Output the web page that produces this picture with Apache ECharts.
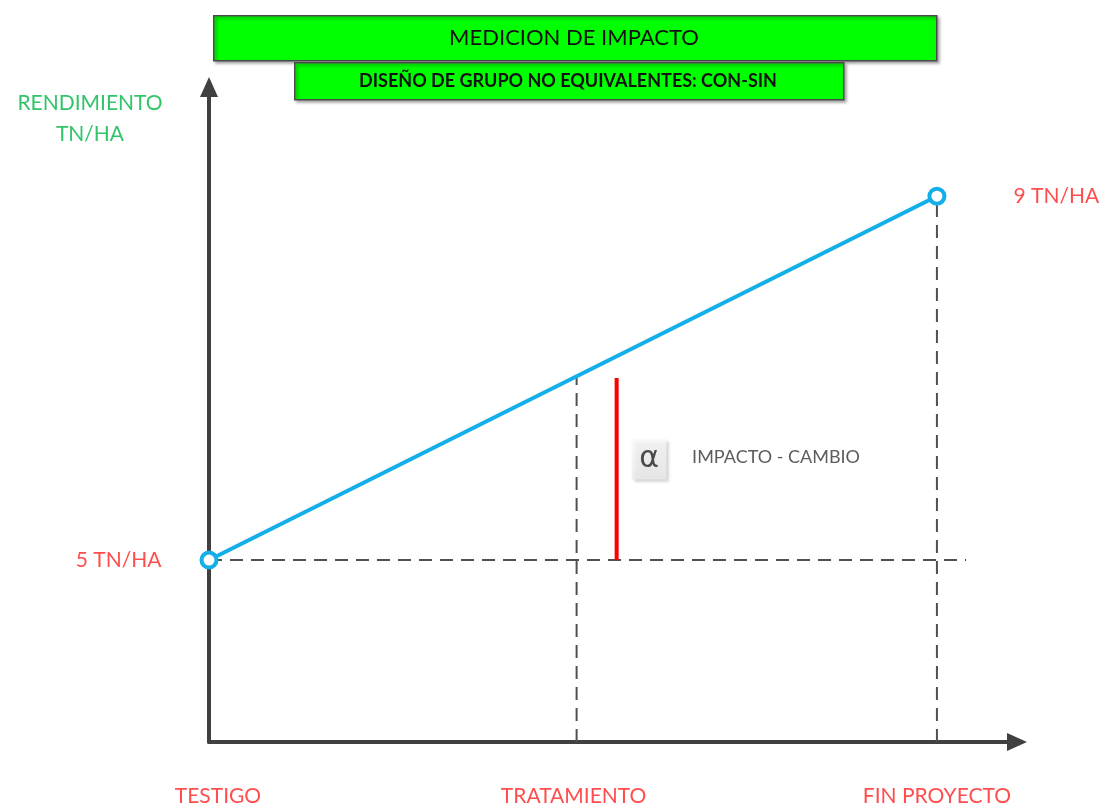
<!DOCTYPE html>
<html>
<head>
<meta charset="utf-8">
<script src="https://cdn.jsdelivr.net/npm/echarts@6/dist/echarts.min.js"></script>
<style>
html,body{margin:0;padding:0;background:#fff;}
#chart{width:1104px;height:805px;}
</style>
</head>
<body>
<div id="chart"></div>
<script>
// ---- data ----
const categories = ['TESTIGO', 'TRATAMIENTO', 'FIN PROYECTO'];
const xPositions = [0, 1.01, 2];
const yieldStart = 5;
const yieldEnd = 9;
const yieldAtTratamiento = 7.02;
const yieldLabels = ['5 TN/HA', '9 TN/HA'];
const impactX = 1.12;
const impactTop = 7.0;
const baselineEndX = 2.08;
const annotationAlpha = { x: 1.209, y: 6.11, text: 'α' };
const annotationText = { x: 1.326, y: 6.13, text: 'IMPACTO - CAMBIO' };
const titleMain = 'MEDICION DE IMPACTO';
const titleSub = 'DISEÑO DE GRUPO NO EQUIVALENTES: CON-SIN';
const yAxisTitle = ['RENDIMIENTO', 'TN/HA'];
const axisMin = { x: 0, y: 3 };
const axisMax = { x: 2.22, y: 10.2 };

const FONT = 'Lato';
const RED = '#ff2020';
const AXIS = '#404040';
const DASH = '#505050';

const chart = echarts.init(document.getElementById('chart'), null, { renderer: 'canvas' });

const dashed = { color: DASH, width: 2, type: [13, 8] };

const option = {
  backgroundColor: '#ffffff',
  animation: false,
  grid: { left: 209, right: 87, top: 87, bottom: 63 },
  xAxis: {
    type: 'value', min: axisMin.x, max: axisMax.x,
    axisLine: { show: true, onZero: false, symbol: ['none', 'triangle'], symbolSize: [18, 20],
      lineStyle: { color: AXIS, width: 4 } },
    axisTick: { show: false }, axisLabel: { show: false }, splitLine: { show: false }
  },
  yAxis: {
    type: 'value', min: axisMin.y, max: axisMax.y,
    axisLine: { show: true, onZero: false, symbol: ['none', 'triangle'], symbolSize: [18, 20],
      lineStyle: { color: AXIS, width: 4 } },
    axisTick: { show: false }, axisLabel: { show: false }, splitLine: { show: false }
  },
  series: [
    { type: 'line', name: 'baseline', data: [[xPositions[0], yieldStart], [baselineEndX, yieldStart]],
      symbol: 'none', lineStyle: dashed, z: 1, silent: true },
    { type: 'line', name: 'tratamiento', data: [[xPositions[1], axisMin.y], [xPositions[1], yieldAtTratamiento]],
      symbol: 'none', lineStyle: dashed, z: 1, silent: true },
    { type: 'line', name: 'fin', data: [[xPositions[2], axisMin.y], [xPositions[2], yieldEnd]],
      symbol: 'none', lineStyle: dashed, z: 1, silent: true },
    { type: 'line', name: 'impacto', data: [[impactX, yieldStart], [impactX, impactTop]],
      symbol: 'none', lineStyle: { color: '#ff0000', width: 4 }, z: 2, silent: true },
    { type: 'line', name: 'rendimiento', data: [[xPositions[0], yieldStart], [xPositions[2], yieldEnd]],
      symbol: 'circle', symbolSize: 15, showSymbol: true, clip: false,
      itemStyle: { color: '#ffffff', borderColor: '#14aee8', borderWidth: 4 },
      lineStyle: { color: '#14aee8', width: 4 }, z: 5,
      label: { show: false } },
    { type: 'scatter', name: 'yLabels', symbolSize: 1, itemStyle: { color: 'rgba(0,0,0,0)' }, z: 6,
      data: [
        { value: [xPositions[0], yieldStart], label: { show: true, formatter: yieldLabels[0], position: 'left', distance: 47 } },
        { value: [xPositions[2], yieldEnd], label: { show: true, formatter: yieldLabels[1], position: 'right', distance: 76 } }
      ],
      label: { color: RED, fontFamily: FONT, fontSize: 21 } },
    { type: 'scatter', name: 'xLabels', symbolSize: 1, itemStyle: { color: 'rgba(0,0,0,0)' }, z: 6,
      data: categories.map((c, i) => ({ value: [xPositions[i], axisMin.y], name: c,
        label: { offset: [i === 0 ? 9 : (i === 1 ? -3 : 0), 0] } })),
      label: { show: true, formatter: p => p.name, position: 'bottom', distance: 43,
        color: RED, fontFamily: FONT, fontSize: 21 } },
    { type: 'scatter', name: 'annotations', symbolSize: 1, itemStyle: { color: 'rgba(0,0,0,0)' }, z: 6,
      data: [
        { value: [annotationAlpha.x, annotationAlpha.y], name: annotationAlpha.text,
          label: { show: true, position: 'inside', formatter: annotationAlpha.text,
            fontSize: 30, color: '#222', fontFamily: 'DejaVu Sans',
            width: 35, height: 41, align: 'center', verticalAlign: 'middle', lineHeight: 41,
            backgroundColor: { type: 'linear', x: 0, y: 0, x2: 0, y2: 1,
              colorStops: [{ offset: 0, color: '#fafafa' }, { offset: 1, color: '#ececec' }] },
            shadowColor: 'rgba(0,0,0,0.25)', shadowBlur: 3, shadowOffsetX: 2, shadowOffsetY: 2 } },
        { value: [annotationText.x, annotationText.y], name: annotationText.text,
          label: { show: true, position: 'right', distance: 0, formatter: annotationText.text,
            fontSize: 18, color: '#333', fontFamily: FONT } }
      ] }
  ],
  graphic: [
    { type: 'rect', left: 213, top: 15, z: 10,
      shape: { width: 723, height: 45 },
      style: { fill: '#00ff00', stroke: '#4a4a4a', lineWidth: 1.5,
        shadowColor: 'rgba(0,0,0,0.35)', shadowBlur: 3, shadowOffsetX: 2, shadowOffsetY: 2 } },
    { type: 'rect', left: 294, top: 62, z: 11,
      shape: { width: 549, height: 37 },
      style: { fill: '#00ff00', stroke: '#4a4a4a', lineWidth: 1.5,
        shadowColor: 'rgba(0,0,0,0.35)', shadowBlur: 3, shadowOffsetX: 2, shadowOffsetY: 2 } },
    { type: 'text', x: 574, y: 38, z: 12,
      style: { text: titleMain, fill: '#111', font: '22px Lato', align: 'center', verticalAlign: 'middle' } },
    { type: 'text', x: 568, y: 81, z: 12,
      style: { text: titleSub, fill: '#111', font: 'bold 18px Lato', align: 'center', verticalAlign: 'middle' } },
    { type: 'text', x: 90, y: 103, z: 10,
      style: { text: yAxisTitle[0], fill: '#33c46a', font: '21px Lato', align: 'center', verticalAlign: 'middle' } },
    { type: 'text', x: 90, y: 134, z: 10,
      style: { text: yAxisTitle[1], fill: '#33c46a', font: '21px Lato', align: 'center', verticalAlign: 'middle' } }
  ]
};
chart.setOption(option);
</script>
</body>
</html>
